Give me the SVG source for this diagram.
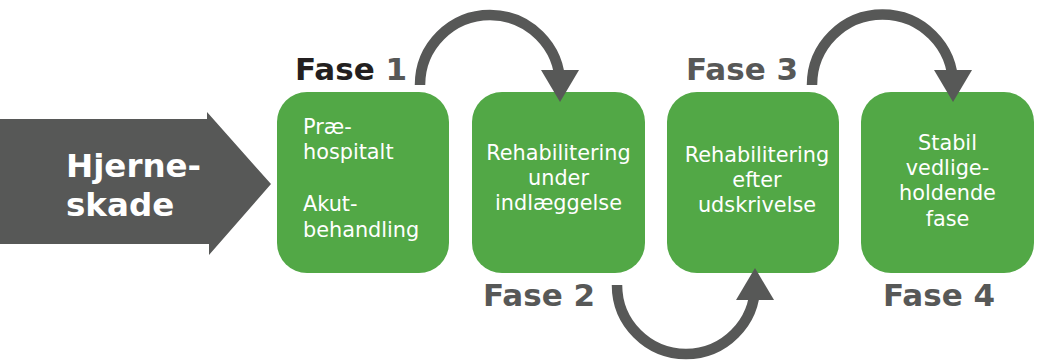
<svg xmlns="http://www.w3.org/2000/svg" width="1037" height="361" viewBox="0 0 1037 361">
<style>
.box{fill:#52a846}
.t{font-family:"DejaVu Sans",Verdana,sans-serif;font-size:20.8px;fill:#ffffff}
.c{text-anchor:middle}
.fase{font-family:"DejaVu Sans",Verdana,sans-serif;font-size:31px;font-weight:bold;fill:#575857}
.arc{fill:none;stroke:#575857;stroke-width:10.5}
.head{fill:#575857}
</style>
<rect width="1037" height="361" fill="#ffffff"/>
<g id="start">
<polygon points="0,119 207,119 207,112 271,184 209,255 209,244 0,244" fill="#575857"/>
<text x="66" y="177" font-family="DejaVu Sans,Verdana,sans-serif" font-size="32.5" font-weight="bold" fill="#ffffff">Hjerne-</text>
<text x="66" y="216" font-family="DejaVu Sans,Verdana,sans-serif" font-size="32.5" font-weight="bold" fill="#ffffff">skade</text>
</g>
<g id="fase1">
<rect class="box" x="277" y="92" width="172" height="181" rx="30"/>
<text class="t" x="303" y="134">Præ-</text>
<text class="t" x="303" y="159">hospitalt</text>
<text class="t" x="303" y="211">Akut-</text>
<text class="t" x="303" y="237">behandling</text>
<text class="fase" x="295" y="80"><tspan fill="#231f20">Fase</tspan> 1</text>
</g>
<g id="fase2">
<rect class="box" x="472" y="92" width="173" height="181" rx="30"/>
<text class="t c" x="558.5" y="160">Rehabilitering</text>
<text class="t c" x="558.5" y="185">under</text>
<text class="t c" x="558.5" y="210">indlæggelse</text>
<text class="fase" x="483" y="306">Fase 2</text>
</g>
<g id="fase3">
<rect class="box" x="667" y="92" width="172" height="181" rx="30"/>
<text class="t c" x="757" y="162">Rehabilitering</text>
<text class="t c" x="757" y="187">efter</text>
<text class="t c" x="757" y="212">udskrivelse</text>
<text class="fase" x="686" y="80">Fase 3</text>
</g>
<g id="fase4">
<rect class="box" x="861" y="92" width="173" height="181" rx="30"/>
<text class="t c" x="947.5" y="150">Stabil</text>
<text class="t c" x="947.5" y="175">vedlige-</text>
<text class="t c" x="947.5" y="200">holdende</text>
<text class="t c" x="947.5" y="226">fase</text>
<text class="fase" x="883" y="306">Fase 4</text>
</g>
<g id="connectors">
<path class="arc" d="M420,85 A70,70 0 0 1 560,85 L560,72"/>
<polygon class="head" points="541,70 579,70 560,102"/>
<path class="arc" d="M617,285 A69,69 0 0 0 755,285 L755,298"/>
<polygon class="head" points="736,300 774,300 755,268"/>
<path class="arc" d="M812,85 A70.5,70.5 0 0 1 953,85 L953,72"/>
<polygon class="head" points="934,70 972,70 953,102"/>
</g>
</svg>
